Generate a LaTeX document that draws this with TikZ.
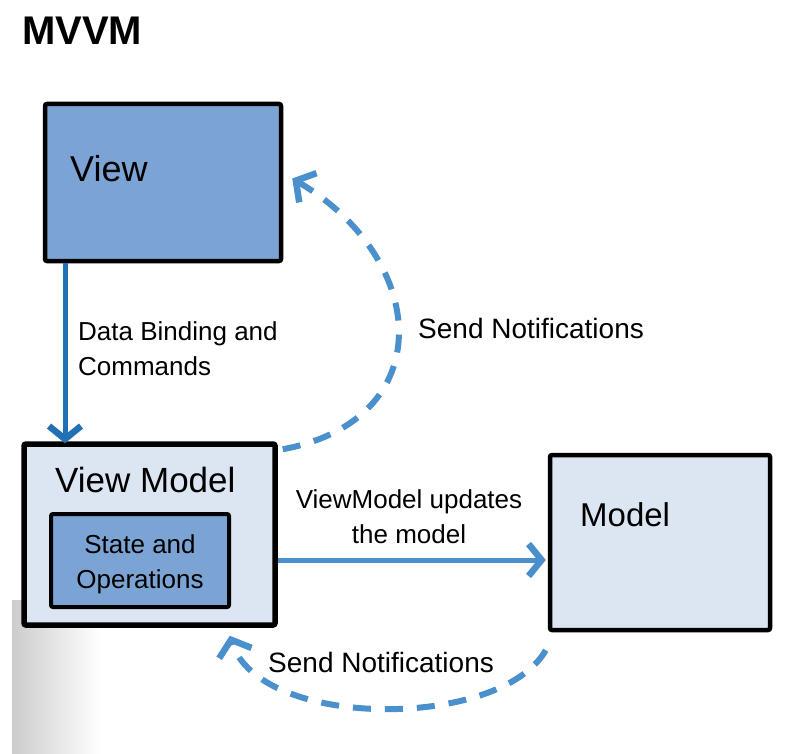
\documentclass[tikz,border=0pt]{standalone}
\usepackage{fontspec}
\setmainfont{Liberation Sans}
\usetikzlibrary{arrows.meta}
\definecolor{midblue}{HTML}{7BA3D4}
\definecolor{lightblue}{HTML}{DCE6F2}
\definecolor{darkarrow}{HTML}{2370B5}
\definecolor{arrowblue}{HTML}{4A8ECB}
\definecolor{dashblue}{HTML}{4A90CC}
\begin{document}
\begin{tikzpicture}[x=1pt,y=-1pt,
  box/.style={rectangle, draw=black, line width=4.5pt, rounded corners=2pt, inner sep=0pt},
  hand/.style={inner sep=0pt, align=left, font=\fontsize{26}{35}\selectfont},
  boxtext/.style={inner sep=0pt, anchor=base west},
  solidarrow/.style={line width=5pt, -{Straight Barb[length=13pt,width=32pt,line width=6.5pt]}},
  notify/.style={line width=6pt, dashblue, dash pattern=on 18pt off 14pt,
    -{Straight Barb[length=14pt,width=34pt,line width=6.5pt]}}
]
\useasboundingbox (0,0) rectangle (792,754);
\fill[white] (0,0) rectangle (792,754);
\shade[left color=black!20, right color=white] (12,600) rectangle (100,754);

% title
\node[anchor=base west, inner sep=0pt, font=\bfseries\fontsize{40}{48}\selectfont] (title) at (22,45) {MVVM};

% boxes
\node[box, fill=midblue, minimum width=236pt, minimum height=157pt] (view) at (163,182.5) {};
\node[box, fill=lightblue, line width=5.5pt, minimum width=251pt, minimum height=181pt] (vm) at (149.5,534.5) {};
\node[box, fill=midblue, line width=4pt, minimum width=178pt, minimum height=93pt] (so) at (140,560.5) {};
\node[box, fill=lightblue, minimum width=220pt, minimum height=175pt] (model) at (660,542.5) {};

% box texts
\node[boxtext, font=\fontsize{36}{40}\selectfont] (viewlbl) at (70,182) {View};
\node[boxtext, font=\fontsize{35}{40}\selectfont] (vmlbl) at (55,492) {View Model};
\node[boxtext, font=\fontsize{33}{40}\selectfont] (modellbl) at (580,526) {Model};
\node[hand, align=center, anchor=north] (solbl) at (140,534) {State and\\Operations};

% helper coordinates
\coordinate (xdown) at (65,0);
\coordinate (yright) at (0,560);

% connectors
\draw[solidarrow, darkarrow] (xdown |- view.south) -- ([yshift=-2pt]xdown |- vm.north);
\draw[solidarrow, arrowblue] (vm.east |- yright) -- ([xshift=-2pt]model.west |- yright);
\draw[notify] ([shift={(5,8)}]vm.north east) .. controls (440,420) and (430,260) .. ([shift={(9,-4)}]view.east);
\draw[notify] ([shift={(-2,18)}]model.south west) .. controls (500,730) and (260,730) .. ([shift={(-48,8)}]vm.south east);

% connector labels
\node[hand, anchor=north west] (dblbl) at (78,321) {Data Binding and\\Commands};
\node[hand, anchor=base west, font=\fontsize{28}{35}\selectfont] (notify1) at (418,338) {Send Notifications};
\node[hand, align=center, anchor=north] (updlbl) at (409,489) {ViewModel updates\\the model};
\node[hand, anchor=base west, font=\fontsize{28}{35}\selectfont] (notify2) at (268,672) {Send Notifications};
\end{tikzpicture}
\end{document}
